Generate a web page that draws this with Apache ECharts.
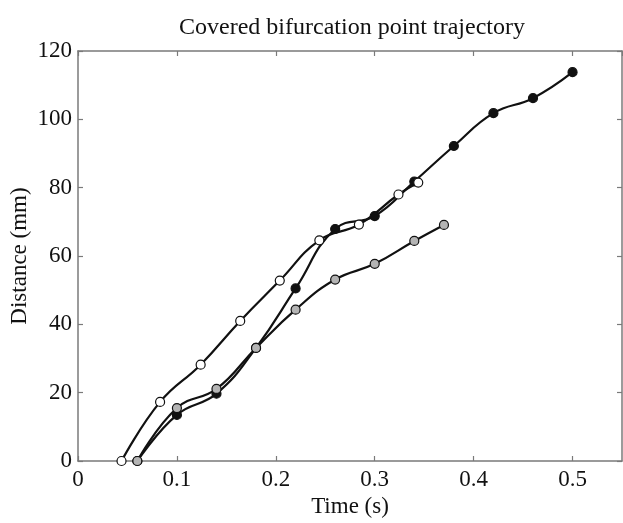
<!DOCTYPE html>
<html>
<head>
<meta charset="utf-8">
<script src="https://cdn.jsdelivr.net/npm/echarts@6/dist/echarts.min.js"></script>
<style>
html, body { margin: 0; padding: 0; background: #fff; }
#chart { width: 623px; height: 523px; }
</style>
</head>
<body>
<div id="chart"></div>
<script>
// 轨迹数据 (time s, distance mm)
var white_t = [0.044, 0.083, 0.124, 0.164, 0.204, 0.244, 0.284, 0.324, 0.344];
var white_d = [0, 17.3, 28.2, 41.0, 52.8, 64.6, 69.2, 78.0, 81.5];
var black_t = [0.06, 0.10, 0.14, 0.18, 0.22, 0.26, 0.30, 0.34, 0.38, 0.42, 0.46, 0.50];
var black_d = [0, 13.5, 19.7, 33.1, 50.5, 67.9, 71.7, 81.8, 92.2, 101.8, 106.2, 113.8];
var gray_t = [0.06, 0.10, 0.14, 0.18, 0.22, 0.26, 0.30, 0.34, 0.37];
var gray_d = [0, 15.5, 21.1, 33.1, 44.3, 53.1, 57.7, 64.4, 69.1];
var x_ticks = [0, 0.1, 0.2, 0.3, 0.4, 0.5];

var font = '"Liberation Serif", "DejaVu Serif", serif';
var axis_color = '#7a7a7a';

function pairs(t, d) {
	var out = [];
	for (var i = 0; i < t.length; i++) out.push([t[i], d[i]]);
	return out;
}

// 建立一条曲线
function make_series(name, t, d, fill, z) {
	return {
		name: name,
		type: 'line',
		smooth: 0.45,
		z: z,
		data: pairs(t, d),
		symbol: 'circle',
		symbolSize: 9,
		clip: false,
		lineStyle: { color: '#111', width: 2.2 },
		itemStyle: { color: fill, borderColor: '#111', borderWidth: 1.2 },
		emphasis: { disabled: true }
	};
}

function x_label(v) {
	for (var i = 0; i < x_ticks.length; i++) {
		if (Math.abs(v - x_ticks[i]) < 1e-6) return String(x_ticks[i]);
	}
	return '';
}

function make_axis(extra) {
	var axis = {
		type: 'value',
		axisLine: { show: true, onZero: false, lineStyle: { color: axis_color, width: 1.5 } },
		axisTick: { show: true, inside: true, length: 5, lineStyle: { color: axis_color, width: 1.2 } },
		splitLine: { show: false }
	};
	return Object.assign(axis, extra);
}

var chart = echarts.init(document.getElementById('chart'), null, { renderer: 'canvas' });
var option = {
	animation: false,
	backgroundColor: '#fff',
	title: {
		text: 'Covered bifurcation point trajectory',
		left: 347,
		textAlign: 'center',
		top: 11,
		textStyle: { fontFamily: font, fontSize: 24, fontWeight: 'normal', color: '#111' }
	},
	grid: { left: 78, right: 1, top: 51, bottom: 62, containLabel: false, outerBoundsMode: 'none' },
	xAxis: [
		make_axis({
			min: 0, max: 0.55, interval: 0.1, position: 'bottom',
			name: 'Time (s)', nameLocation: 'middle', nameGap: 34,
			nameTextStyle: { fontFamily: font, fontSize: 23, color: '#111' },
			axisLabel: { fontFamily: font, fontSize: 23, color: '#111', margin: 7, formatter: x_label, showMaxLabel: false }
		}),
		make_axis({
			min: 0, max: 0.55, interval: 0.1, position: 'top',
			axisLabel: { show: false }
		})
	],
	yAxis: [
		make_axis({
			min: 0, max: 120, interval: 20, position: 'left',
			name: 'Distance (mm)', nameLocation: 'middle', nameGap: 47, nameMoveOverlap: false,
			nameTextStyle: { fontFamily: font, fontSize: 23, color: '#111' },
			axisLabel: { fontFamily: font, fontSize: 23, color: '#111', margin: 6 }
		}),
		make_axis({
			min: 0, max: 120, interval: 20, position: 'right',
			axisLabel: { show: false }
		})
	],
	series: [
		make_series('black', black_t, black_d, '#111', 2),
		make_series('gray', gray_t, gray_d, '#b4b4b4', 3),
		make_series('white', white_t, white_d, '#ffffff', 4)
	]
};
chart.setOption(option);
</script>
</body>
</html>
